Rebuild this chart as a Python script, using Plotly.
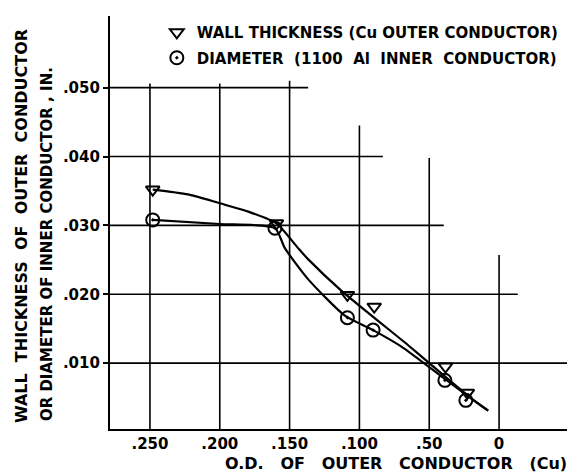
import plotly.graph_objects as go

# Data
wall_x = [0.248, 0.1594, 0.1086, 0.0894, 0.0384, 0.0227]
wall_y = [0.0352, 0.0303, 0.0199, 0.0182, 0.0095, 0.0057]
diam_x = [0.248, 0.1605, 0.1086, 0.0902, 0.0388, 0.0238]
diam_y = [0.0308, 0.0296, 0.0166, 0.0148, 0.0075, 0.0046]

# hand-drawn fit curves
wall_fit_x = [0.248, 0.2227, 0.1963, 0.1796, 0.1594, 0.1439, 0.1368, 0.1128, 0.0651, 0.050, 0.020, 0.0078]
wall_fit_y = [0.0352, 0.0345, 0.0330, 0.0320, 0.0303, 0.0267, 0.0251, 0.0205, 0.0126, 0.0100, 0.0049, 0.0031]
diam_fit_x = [0.248, 0.200, 0.1605, 0.1534, 0.1368, 0.1104, 0.0902, 0.0699, 0.0388, 0.020, 0.0078]
diam_fit_y = [0.0308, 0.0302, 0.0296, 0.0267, 0.0222, 0.0169, 0.0148, 0.0124, 0.0077, 0.0049, 0.0031]

x_ticks = [0.25, 0.20, 0.15, 0.10, 0.05, 0.0]
x_labels = [".250", ".200", ".150", ".100", ".50", "0"]
y_ticks = [0.010, 0.020, 0.030, 0.040, 0.050]
y_labels = [".010", ".020", ".030", ".040", ".050"]

# staircase grid extents (where each grid line ends)
hgrid_end = [-0.0488, -0.0134, 0.0396, 0.0832, 0.1367]
vgrid_top = [0.0506, 0.0506, 0.0510, 0.0445, 0.0398, 0.0257]

XR = [0.2786, -0.0601]
YR = [0.00044, 0.0604]
FONT = "DejaVu Sans"
NB = "\u00a0"

fig = go.Figure()
for fx, fy in ((wall_fit_x, wall_fit_y), (diam_fit_x, diam_fit_y)):
    fig.add_trace(go.Scatter(x=fx, y=fy, mode="lines",
                             line=dict(color="black", width=2.2, shape="spline", smoothing=0.6),
                             showlegend=False, hoverinfo="skip"))
fig.add_trace(go.Scatter(x=wall_x, y=wall_y, mode="markers",
                         name="WALL THICKNESS (Cu OUTER CONDUCTOR)", legendgroup="a",
                         marker=dict(symbol="triangle-down-open", size=12, color="black",
                                     line=dict(width=2, color="black"))))
fig.add_trace(go.Scatter(x=diam_x, y=diam_y, mode="markers",
                         name="DIAMETER" + NB * 2 + "(1100" + NB * 2 + "Al" + NB * 2 + "INNER" + NB * 2 + "CONDUCTOR)",
                         legendgroup="b",
                         marker=dict(symbol="circle-open-dot", size=13, color="black",
                                     line=dict(width=2, color="black"))))

shapes = []
for yv, xe in zip(y_ticks, hgrid_end):
    shapes.append(dict(type="line", xref="x", yref="y", x0=XR[0], x1=xe, y0=yv, y1=yv,
                       line=dict(color="black", width=1.6), layer="below"))
for xv, yt in zip(x_ticks, vgrid_top):
    shapes.append(dict(type="line", xref="x", yref="y", x0=xv, x1=xv, y0=YR[0], y1=yt,
                       line=dict(color="black", width=1.6), layer="below"))

annotations = [
    dict(text="WALL" + NB * 2 + "THICKNESS" + NB * 2 + "OF" + NB * 2 + "OUTER" + NB * 2 + "CONDUCTOR", textangle=-90,
         xref="paper", yref="paper", x=-0.186, y=0.0097, xanchor="center", yanchor="bottom",
         showarrow=False, font=dict(family=FONT, size=16, color="black", weight="bold")),
    dict(text="OR DIAMETER OF INNER CONDUCTOR" + NB + "," + NB + "IN.", textangle=-90,
         xref="paper", yref="paper", x=-0.133, y=0.0145, xanchor="center", yanchor="bottom",
         showarrow=False, font=dict(family=FONT, size=15, color="black", weight="bold")),
    dict(text="O.D." + NB * 3 + "OF" + NB * 3 + "OUTER" + NB * 3 + "CONDUCTOR" + NB * 3 + "(Cu)",
         xref="paper", yref="paper", x=0.6057, y=-0.0847, xanchor="center", yanchor="middle",
         borderpad=0,
         showarrow=False, font=dict(family=FONT, size=16, color="black", weight="bold")),
]

fig.update_layout(
    width=575, height=472,
    margin=dict(l=102, r=0, t=8, b=51),
    paper_bgcolor="white", plot_bgcolor="white",
    shapes=shapes, annotations=annotations,
    showlegend=True,
    legend=dict(x=0.099, y=1.0, xanchor="left", yanchor="top", bgcolor="rgba(0,0,0,0)",
                font=dict(family=FONT, size=15, color="black", weight="bold"),
                tracegroupgap=3, traceorder="grouped", itemwidth=30),
    xaxis=dict(range=XR, tickvals=x_ticks, ticktext=x_labels, showgrid=False, zeroline=False,
               showline=True, linecolor="black", linewidth=2.2, ticks="",
               tickfont=dict(family=FONT, size=15, color="black", weight="bold")),
    yaxis=dict(range=YR, tickvals=y_ticks, ticktext=y_labels, showgrid=False, zeroline=False,
               showline=True, linecolor="black", linewidth=2.2, ticks="outside", ticklen=5,
               tickwidth=1.6, tickcolor="black",
               tickfont=dict(family=FONT, size=15, color="black", weight="bold")),
)

fig.write_html("out.html")
